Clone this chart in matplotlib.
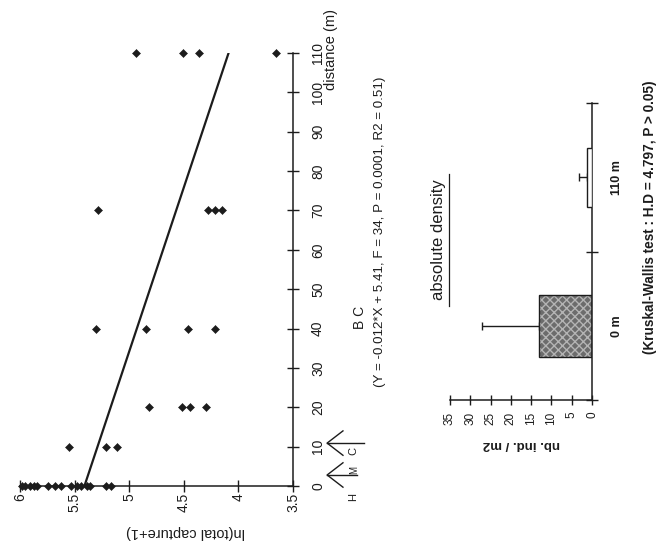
import matplotlib
matplotlib.use("Agg")
import matplotlib.pyplot as plt
from matplotlib.lines import Line2D
import matplotlib.transforms as mtransforms
import numpy as np

plt.rcParams['font.family'] = ['Liberation Sans', 'DejaVu Sans']

# ---------------- data ----------------
distances = [0, 10, 20, 40, 70, 110]
capture_d0 = [5.98, 5.95, 5.91, 5.87, 5.84, 5.74, 5.68, 5.62, 5.53, 5.48, 5.44, 5.39, 5.36, 5.21, 5.17]
capture_d10 = [5.55, 5.21, 5.11]
capture_d20 = [4.82, 4.52, 4.44, 4.30]
capture_d40 = [5.30, 4.85, 4.46, 4.21]
capture_d70 = [5.29, 4.28, 4.21, 4.15]
capture_d110 = [4.94, 4.51, 4.36, 3.66]
captures = [capture_d0, capture_d10, capture_d20, capture_d40, capture_d70, capture_d110]
reg_slope = -0.012
reg_intercept = 5.41
capture_ticks = [6, 5.5, 5, 4.5, 4, 3.5]
capture_tick_labels = ['6', '5.5', '5', '4.5', '4', '3.5']
distance_ticks = list(range(0, 111, 10))

density_categories = ['0 m', '110 m']
density_means = [13.0, 1.3]
density_err_upper = [14.0, 1.9]
density_ticks = [35, 30, 25, 20, 15, 10, 5, 0]

W, H = 661, 554
fig = plt.figure(figsize=(W / 100, H / 100), dpi=100)
fig.patch.set_facecolor('white')
INK = '#1c1c1c'


def P(x, y):
    return x / W, 1 - y / H

# ---------------- top panel (rotated scatter) ----------------
ax = fig.add_axes([20 / W, 1 - 486 / H, 273 / W, 433 / H])
for d, vals in zip(distances, captures):
    ax.plot(vals, [d] * len(vals), linestyle='none', marker='D', ms=4.3,
            color=INK, mec=INK, mew=0.4, clip_on=False, zorder=3)
dline = np.array([0, 110])
ax.plot(reg_intercept + reg_slope * dline, dline, color=INK, lw=1.6, zorder=2)

ax.set_xlim(6, 3.5)
ax.set_ylim(0, 110)
for s in ['top', 'left']:
    ax.spines[s].set_visible(False)
for s in ['bottom', 'right']:
    ax.spines[s].set_color(INK)
    ax.spines[s].set_linewidth(1.1)
ax.yaxis.tick_right()
ax.set_xticks(capture_ticks)
ax.set_xticklabels(capture_tick_labels, rotation=90)
ax.set_yticks(distance_ticks)
ax.set_yticklabels([str(t) for t in distance_ticks], rotation=90)
ax.tick_params(axis='x', direction='inout', length=8, width=1.0, colors=INK,
               labelsize=10, pad=1)
ax.tick_params(axis='y', direction='inout', length=8, width=1.0, colors=INK,
               labelsize=10, pad=9)
for lbl in ax.get_yticklabels():
    lbl.set_va('center')
ax.patch.set_alpha(0)

fig.text(*P(186, 532), 'ln(total capture+1)', rotation=180, ha='center', va='center',
         fontsize=10.5, color=INK)
fig.text(*P(331, 50), 'distance (m)', rotation=90, ha='center', va='center',
         fontsize=10.5, color=INK)

# arrows H / M / C under the distance axis
bt = mtransforms.blended_transform_factory(ax.transAxes, ax.transData)
arrow_sites = [10.9, 2.8]
arrow_tails = [1.26, 1.235]
for dtip, tail in zip(arrow_sites, arrow_tails):
    ax.plot([1.125, tail], [dtip, dtip], color=INK, lw=1.0, transform=bt, clip_on=False)
    ax.plot([1.183, 1.125, 1.183], [dtip + 3.1, dtip, dtip - 3.1], color=INK, lw=1.0,
            transform=bt, clip_on=False)
fig.text(*P(353, 451), 'C', rotation=90, ha='center', va='center', fontsize=8, color=INK)
fig.text(*P(354, 470), 'M', rotation=90, ha='center', va='center', fontsize=7, color=INK)
fig.text(*P(353, 497), 'H', rotation=90, ha='center', va='center', fontsize=8, color=INK)

# ---------------- annotations in the middle ----------------
fig.text(*P(360, 317), 'B C', rotation=90, ha='center', va='center', fontsize=10, color=INK)
fig.text(*P(380, 232), '(Y = -0.012*X + 5.41, F = 34, P = 0.0001, R2 = 0.51)',
         rotation=90, ha='center', va='center', fontsize=9.6, color=INK)
fig.text(*P(438, 240), 'absolute density', rotation=90, ha='center', va='center',
         fontsize=12, color=INK)
fig.add_artist(Line2D([449 / W, 449 / W], [1 - 174 / H, 1 - 306 / H], color=INK, lw=0.9))
fig.text(*P(650, 217), '(Kruskal-Wallis test : H.D = 4.797, P > 0.05)', rotation=90,
         ha='center', va='center', fontsize=9.8, fontweight='bold', color=INK)

# ---------------- bottom panel (rotated bar chart) ----------------
bx = fig.add_axes([450 / W, 1 - 400 / H, 142 / W, 297 / H])
ypos = np.array([0.5, 1.5])
bx.errorbar(density_means, ypos,
            xerr=[np.zeros(len(density_means)), density_err_upper],
            fmt='none', ecolor=INK, elinewidth=1.0, capsize=3, capthick=1.0, zorder=1)
bx.barh(ypos[0], density_means[0], height=0.42, color='#6c6c6c', edgecolor='#b4b4b4',
        hatch='xxxx', linewidth=0, zorder=2)
bx.barh(ypos[0], density_means[0], height=0.42, facecolor='none', edgecolor=INK,
        linewidth=1.0, zorder=3)
bx.barh(ypos[1], density_means[1], height=0.40, facecolor='white', edgecolor=INK,
        linewidth=1.0, zorder=3)
bx.set_xlim(35, 0)
bx.set_ylim(0, 2)
for s in ['top', 'left']:
    bx.spines[s].set_visible(False)
for s in ['bottom', 'right']:
    bx.spines[s].set_color(INK)
    bx.spines[s].set_linewidth(1.1)
bx.yaxis.tick_right()
bx.set_xticks(density_ticks)
bx.set_xticklabels([str(t) for t in density_ticks], rotation=90)
bx.set_yticks([0, 1, 2])
bx.set_yticklabels([])
bx.set_yticks(ypos, density_categories, minor=True)
for lbl in bx.get_yticklabels(minor=True):
    lbl.set_rotation(90)
    lbl.set_fontweight('bold')
    lbl.set_va('center')
bx.tick_params(axis='x', direction='inout', length=7, width=1.0, colors=INK,
               labelsize=8.5, pad=5)
bx.tick_params(axis='y', which='major', direction='inout', length=9, width=1.0, colors=INK)
bx.tick_params(axis='y', which='minor', length=0, labelsize=9, pad=14, colors=INK)
bx.patch.set_alpha(0)
fig.text(*P(521, 444), 'nb. ind. / m2', rotation=180, ha='center', va='center',
         fontsize=9.5, fontweight='bold', color=INK)

fig.savefig('out.png', dpi=100, facecolor='white')
